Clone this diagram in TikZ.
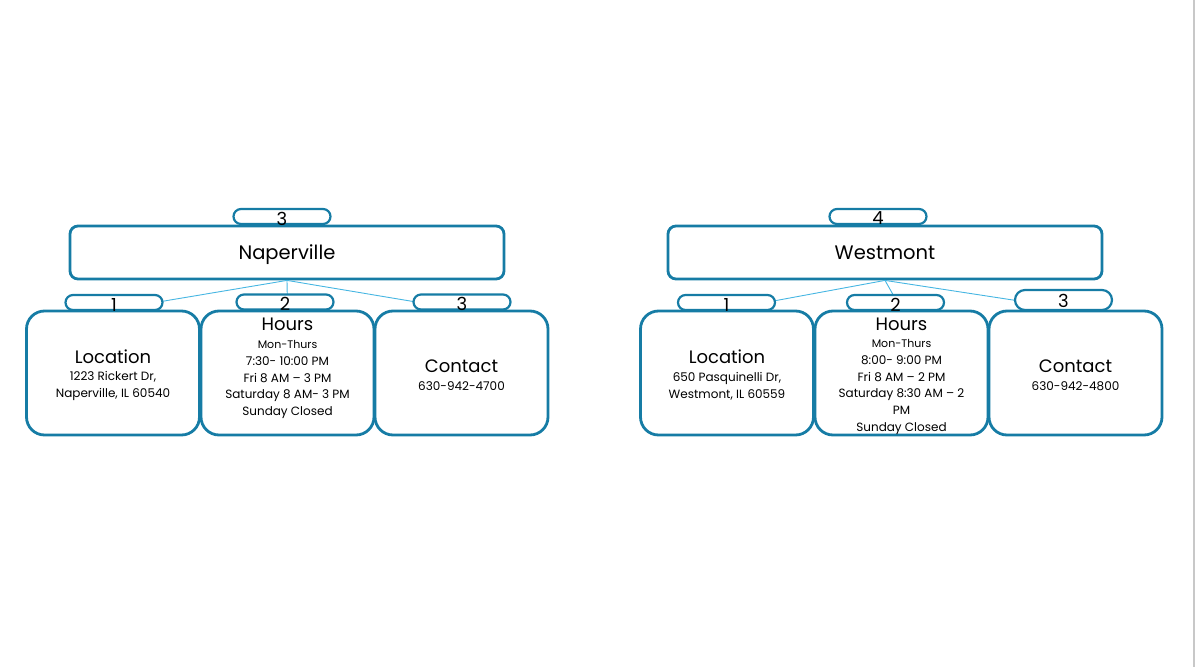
\documentclass[tikz,border=0pt]{standalone}
\usepackage{fontspec}
\setmainfont{Poppins}
\usetikzlibrary{shapes.misc}
\definecolor{acc}{RGB}{22,124,165}
\definecolor{conn}{RGB}{70,182,226}
\definecolor{edge}{RGB}{200,200,200}
\newcommand\ttlf{\fontsize{18}{20}\selectfont}
\newcommand\smf{\fontsize{11}{14}\selectfont}
\begin{document}
\begin{tikzpicture}[x=1pt,y=-1pt,
  parentbox/.style={draw=acc, line width=2.8pt, rounded corners=8pt, fill=white,
    minimum width=434pt, minimum height=53pt, inner sep=0pt,
    text height=16pt, text depth=2pt,
    font=\fontsize{19.5}{22}\selectfont},
  childbox/.style={draw=acc, line width=2.8pt, rounded corners=18pt, fill=white,
    minimum width=173pt, minimum height=124pt, inner sep=0pt},
  body/.style={align=center, inner sep=0pt, font=\fontsize{12}{16.7}\selectfont},
  pill/.style={rounded rectangle, draw=acc, line width=2.2pt, fill=white,
    minimum width=97pt, minimum height=15pt, inner sep=0pt},
  num/.style={font=\fontsize{18}{18}\selectfont, inner sep=0pt},
  conn/.style={draw=conn, line width=0.9pt}]
\useasboundingbox (0,0) rectangle (1195,667);
\draw[edge, line width=1.5pt] (1194,0) -- (1194,667);

% ---------- Naperville ----------
\node[parentbox] (np) at (287,252.5) {Naperville};
\node[childbox, label={[body, yshift=-2pt]center:{{\ttlf Location}\\[1pt]1223 Rickert Dr,\\Naperville, IL 60540}}] (nl) at (113,373) {};
\node[childbox, label={[body, yshift=4.5pt]center:{{\ttlf Hours}\\[1pt]{\smf Mon-Thurs}\\7:30- 10:00 PM\\Fri 8 AM – 3 PM\\Saturday 8 AM- 3 PM\\Sunday Closed}}] (nh) at (287.5,373) {};
\node[childbox, label={[body, yshift=-2pt]center:{{\ttlf Contact}\\[1pt]630-942-4700}}] (nc) at (461.5,373) {};
\draw[conn] (np.south) -- (nl.north);
\draw[conn] (np.south) -- (nh.north);
\draw[conn] (np.south) -- (nc.north);
\node[pill, label={[num, yshift=-2pt]center:3}] (npp) at (282,216.5) {};
\node[pill, label={[num, yshift=-2pt]center:1}] (nlp) at (114,302.5) {};
\node[pill, label={[num, yshift=-2pt]center:2}] (nhp) at (285,302) {};
\node[pill, label={[num, yshift=-2pt]center:3}] (ncp) at (462,302) {};

% ---------- Westmont ----------
\node[parentbox] (wp) at (885,252.5) {Westmont};
\node[childbox, label={[body, yshift=-2pt]center:{{\ttlf Location}\\[1pt]650 Pasquinelli Dr,\\Westmont, IL 60559}}] (wl) at (727,373) {};
\node[childbox, label={[body, yshift=-3pt]center:{{\ttlf Hours}\\[1pt]{\smf Mon-Thurs}\\8:00- 9:00 PM\\Fri 8 AM – 2 PM\\Saturday 8:30 AM – 2\\PM\\Sunday Closed}}] (wh) at (901.5,373) {};
\node[childbox, label={[body, yshift=-2pt]center:{{\ttlf Contact}\\[1pt]630-942-4800}}] (wc) at (1075.5,373) {};
\draw[conn] (wp.south) -- (wl.north);
\draw[conn] (wp.south) -- (wh.north);
\draw[conn] (wp.south) -- (wc.north);
\node[pill, label={[num, yshift=-2pt]center:4}] (wpp) at (878,216.5) {};
\node[pill, label={[num, yshift=-2pt]center:1}] (wlp) at (726.5,302.5) {};
\node[pill, label={[num, yshift=-2pt]center:2}] (whp) at (895.5,302.5) {};
\node[pill, minimum height=20pt, label={[num, yshift=-1pt]center:3}] (wcp) at (1063.5,300) {};
\end{tikzpicture}
\end{document}
